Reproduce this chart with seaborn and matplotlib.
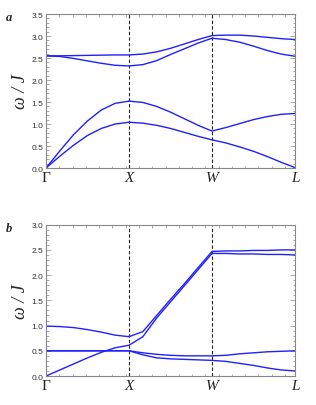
import numpy as np
import pandas as pd
import matplotlib
matplotlib.use("Agg")
import matplotlib.pyplot as plt
from matplotlib.ticker import MultipleLocator, FormatStrFormatter
import seaborn as sns

sns.set_style("ticks")

# path coordinate: Gamma=0, X=1, W=2, L=3 (six steps per segment)
k_path = [0, 0.167, 0.333, 0.5, 0.667, 0.833, 1,
          1.167, 1.333, 1.5, 1.667, 1.833, 2,
          2.167, 2.333, 2.5, 2.667, 2.833, 3]
sym_pos = [0, 1, 2, 3]
sym_labels = ["Γ", "X", "W", "L"]

# panel a
a1 = [0, 0.27, 0.52, 0.74, 0.90, 1.00, 1.04, 1.02, 0.97, 0.90, 0.81, 0.72, 0.64,
      0.57, 0.48, 0.38, 0.26, 0.13, 0.01]
a2 = [0, 0.39, 0.76, 1.07, 1.32, 1.47, 1.52, 1.49, 1.40, 1.27, 1.12, 0.97, 0.84,
      0.92, 1.01, 1.10, 1.17, 1.22, 1.24]
a3 = [2.55, 2.535, 2.49, 2.435, 2.38, 2.335, 2.32, 2.35, 2.44, 2.58, 2.71, 2.84, 2.95,
      2.92, 2.86, 2.77, 2.67, 2.59, 2.54]
a4 = [2.55, 2.55, 2.555, 2.56, 2.565, 2.57, 2.57, 2.59, 2.64, 2.72, 2.82, 2.92, 3.01,
      3.02, 3.02, 3.00, 2.97, 2.94, 2.92]

# panel b
b1 = [0.50, 0.50, 0.50, 0.50, 0.50, 0.50, 0.50, 0.42, 0.36, 0.34, 0.33, 0.32, 0.31,
      0.29, 0.25, 0.21, 0.16, 0.12, 0.10]
b2 = [0.50, 0.50, 0.50, 0.50, 0.50, 0.50, 0.50, 0.46, 0.43, 0.41, 0.40, 0.40, 0.40,
      0.41, 0.44, 0.46, 0.48, 0.49, 0.50]
b3 = [0, 0.12, 0.24, 0.36, 0.47, 0.56, 0.61, 0.78, 1.15, 1.47, 1.79, 2.11, 2.43,
      2.43, 2.42, 2.42, 2.41, 2.41, 2.40]
b4 = [0.99, 0.98, 0.96, 0.92, 0.87, 0.81, 0.78, 0.88, 1.20, 1.52, 1.83, 2.15, 2.47,
      2.48, 2.48, 2.49, 2.49, 2.50, 2.50]


def to_long(bands):
    rows = []
    for name, vals in bands.items():
        for k, w in zip(k_path, vals):
            rows.append({"k": k, "omega": w, "band": name})
    return pd.DataFrame(rows)


df_a = to_long({"a1": a1, "a2": a2, "a3": a3, "a4": a4})
df_b = to_long({"b1": b1, "b2": b2, "b3": b3, "b4": b4})

fig = plt.figure(figsize=(3.16, 4.06), dpi=100)
ax_a = fig.add_axes([0.1456, 0.5837, 0.788, 0.3793])
ax_b = fig.add_axes([0.1456, 0.0714, 0.788, 0.3727])


def style_panel(ax, df, ymax):
    sns.lineplot(data=df, x="k", y="omega", units="band", estimator=None,
                 sort=False, color="#2020ff", lw=1.0, ax=ax)
    for p in sym_pos[1:3]:
        ax.axvline(p, color="#222222", ls=(0, (3, 2)), lw=0.8, zorder=1)
    ax.set_xlim(0, 3)
    ax.set_ylim(0, ymax)
    ax.set_xticks(sym_pos)
    ax.set_xticklabels(sym_labels, family="Liberation Serif", fontsize=11)
    for t in ax.get_xticklabels()[1:]:
        t.set_fontstyle("italic")
    ax.xaxis.set_minor_locator(MultipleLocator(0.16))
    ax.yaxis.set_major_locator(MultipleLocator(0.5))
    ax.yaxis.set_minor_locator(MultipleLocator(0.1))
    ax.yaxis.set_major_formatter(FormatStrFormatter("%.1f"))
    for t in ax.get_yticklabels():
        t.set_family("Liberation Sans")
        t.set_fontsize(6)
        t.set_color("#333333")
    ax.tick_params(which="both", direction="in", top=True, right=True,
                   color="#888888", width=0.5)
    ax.tick_params(which="major", length=3.5, pad=2)
    ax.tick_params(which="minor", length=1.8)
    ax.tick_params(axis="x", which="major", length=0, pad=2)
    for s in ax.spines.values():
        s.set_color("#888888")
        s.set_linewidth(0.8)
    ax.set_xlabel("")
    ax.set_ylabel("ω / J", family="Liberation Serif", style="italic",
                  fontsize=13, labelpad=2)


style_panel(ax_a, df_a, 3.5)
style_panel(ax_b, df_b, 3.0)

for lab, ypx in [("a", 18), ("b", 229)]:
    fig.text(9 / 316, 1 - ypx / 406, lab, family="Liberation Serif",
             style="italic", weight="bold", fontsize=9, ha="center", va="center")

fig.savefig("out.png", dpi=100)
